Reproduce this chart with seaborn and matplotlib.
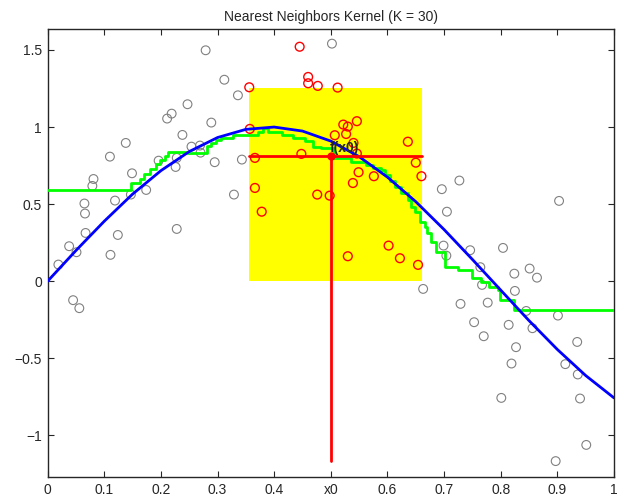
import numpy as np
import pandas as pd
import matplotlib
matplotlib.use("Agg")
import matplotlib.pyplot as plt
import seaborn as sns

# training points outside the neighbourhood (grey) and the 30 nearest neighbours of x0 (red)
gray_x = [0.279, 0.312, 0.336, 0.247, 0.219, 0.211, 0.289, 0.238, 0.138, 0.110,
          0.254, 0.269, 0.270, 0.295, 0.196, 0.228, 0.226, 0.149, 0.081, 0.079,
          0.174, 0.147, 0.329, 0.119, 0.065, 0.066, 0.228, 0.067, 0.124, 0.038,
          0.051, 0.111, 0.019, 0.045, 0.056, 0.343, 0.502, 0.663,
          0.727, 0.696, 0.705, 0.903, 0.699, 0.704, 0.746, 0.804, 0.764, 0.851,
          0.824, 0.864, 0.767, 0.825, 0.777, 0.729, 0.845, 0.901, 0.753, 0.814,
          0.856, 0.770, 0.935, 0.827, 0.819, 0.914, 0.936, 0.801, 0.940, 0.951, 0.897]
gray_y = [1.498, 1.307, 1.206, 1.148, 1.087, 1.055, 1.029, 0.949, 0.897, 0.808,
          0.873, 0.880, 0.834, 0.772, 0.782, 0.800, 0.741, 0.700, 0.663, 0.618,
          0.592, 0.562, 0.562, 0.523, 0.504, 0.439, 0.339, 0.313, 0.300, 0.227,
          0.188, 0.171, 0.108, -0.123, -0.175, 0.789, 1.541, -0.050,
          0.653, 0.597, 0.451, 0.521, 0.231, 0.166, 0.201, 0.216, 0.091, 0.082,
          0.049, 0.023, -0.024, -0.063, -0.139, -0.147, -0.193, -0.223, -0.266, -0.283,
          -0.305, -0.357, -0.394, -0.428, -0.534, -0.538, -0.605, -0.757, -0.761, -1.062, -1.167]

red_x = [0.445, 0.460, 0.460, 0.477, 0.512, 0.356, 0.357, 0.546, 0.522, 0.530,
         0.507, 0.527, 0.540, 0.636, 0.448, 0.546, 0.366, 0.650, 0.549, 0.576,
         0.660, 0.539, 0.366, 0.476, 0.498, 0.378, 0.602, 0.622, 0.530, 0.654]
red_y = [1.521, 1.325, 1.284, 1.267, 1.256, 1.258, 0.988, 1.038, 1.016, 1.003,
         0.947, 0.955, 0.897, 0.905, 0.826, 0.828, 0.800, 0.769, 0.707, 0.681,
         0.681, 0.637, 0.605, 0.562, 0.555, 0.451, 0.231, 0.149, 0.162, 0.106]

# true function (blue)
true_x = [0.00, 0.05, 0.10, 0.15, 0.20, 0.25, 0.30, 0.35, 0.40, 0.45, 0.50,
          0.55, 0.60, 0.65, 0.70, 0.75, 0.80, 0.85, 0.90, 0.95, 1.00]
true_y = [0.000, 0.199, 0.389, 0.565, 0.717, 0.841, 0.932, 0.985, 1.000, 0.974, 0.909,
          0.808, 0.675, 0.516, 0.335, 0.141, -0.058, -0.256, -0.443, -0.612, -0.757]

# nearest-neighbour average (green step curve)
knn_x = [0.000, 0.147, 0.163, 0.170, 0.181, 0.191, 0.199, 0.207, 0.213, 0.245,
         0.281, 0.289, 0.298, 0.307, 0.327, 0.363, 0.372, 0.380, 0.389, 0.413,
         0.433, 0.454, 0.469, 0.483, 0.505, 0.536, 0.563, 0.574, 0.589, 0.595,
         0.604, 0.613, 0.624, 0.636, 0.642, 0.648, 0.657, 0.666, 0.670, 0.676,
         0.686, 0.701, 0.724, 0.750, 0.766, 0.780, 0.795, 0.798, 0.824, 1.000]
knn_y = [0.590, 0.635, 0.663, 0.696, 0.728, 0.759, 0.787, 0.815, 0.837, 0.830,
         0.877, 0.899, 0.916, 0.930, 0.949, 0.951, 0.966, 0.994, 0.968, 0.951,
         0.929, 0.908, 0.871, 0.864, 0.800, 0.772, 0.756, 0.735, 0.724, 0.691,
         0.649, 0.610, 0.571, 0.527, 0.484, 0.451, 0.387, 0.354, 0.311, 0.257,
         0.192, 0.095, 0.073, 0.019, -0.003, -0.035, -0.056, -0.121, -0.186, -0.186]

x0 = 0.5
fx0 = 0.815
box_x = [0.355, 0.661]
box_top = 1.255
y_bottom = -1.165

tick_pos = [0, 0.1, 0.2, 0.3, 0.4, 0.5, 0.6, 0.7, 0.8, 0.9, 1.0]
tick_lab = ["0", "0.1", "0.2", "0.3", "0.4", "x0", "0.6", "0.7", "0.8", "0.9", "1"]

sns.set_style("ticks")
plt.rcParams["font.family"] = ["Liberation Sans", "DejaVu Sans"]
plt.rcParams["xtick.direction"] = "in"
plt.rcParams["ytick.direction"] = "in"

fig = plt.figure(figsize=(6.24, 4.95), dpi=100)
ax = fig.add_axes([0.0763, 0.0364, 0.9077, 0.905])

ax.fill_between(box_x, 0, box_top, color="#ffff00", lw=0, zorder=1)

gray = pd.DataFrame({"x": gray_x, "y": gray_y})
red = pd.DataFrame({"x": red_x, "y": red_y})
sns.scatterplot(data=gray, x="x", y="y", ax=ax, marker="o", s=40, facecolors="none",
                edgecolor="#808080", linewidth=0.8, zorder=2)
sns.scatterplot(data=red, x="x", y="y", ax=ax, marker="o", s=40, facecolors="none",
                edgecolor="#ff0000", linewidth=1.0, zorder=2)

sns.lineplot(x=knn_x, y=knn_y, ax=ax, color="#00ff00", lw=2.0, drawstyle="steps-post",
             sort=False, estimator=None, zorder=3)
sns.lineplot(x=true_x, y=true_y, ax=ax, color="#0000ff", lw=2.0,
             sort=False, estimator=None, zorder=4)

ax.plot(box_x, [fx0, fx0], color="#ff0000", lw=2.0, zorder=5)
ax.plot([x0, x0], [y_bottom, fx0], color="#ff0000", lw=2.0, zorder=5)
ax.plot([x0], [fx0], "o", color="#ff0000", ms=5, zorder=6)
ax.text(x0 - 0.002, fx0 + 0.005, "f(x0)", fontsize=10, fontweight="bold",
        ha="left", va="bottom", zorder=7)

ax.set_xlim(0, 1)
ax.set_ylim(-1.27, 1.636)
ax.set_xticks(tick_pos)
ax.set_xticklabels(tick_lab)
ax.set_yticks([-1, -0.5, 0, 0.5, 1, 1.5])
ax.set_yticklabels(["\u22121", "\u22120.5", "0", "0.5", "1", "1.5"])
ax.tick_params(top=True, right=True, labelsize=10, length=4, width=0.8, pad=4)
for s in ax.spines.values():
    s.set_visible(True)
    s.set_linewidth(1.0)
ax.set_xlabel("")
ax.set_ylabel("")
ax.set_title("Nearest Neighbors Kernel (K = 30)", fontsize=10, pad=6)

fig.savefig("out.png", dpi=100)
